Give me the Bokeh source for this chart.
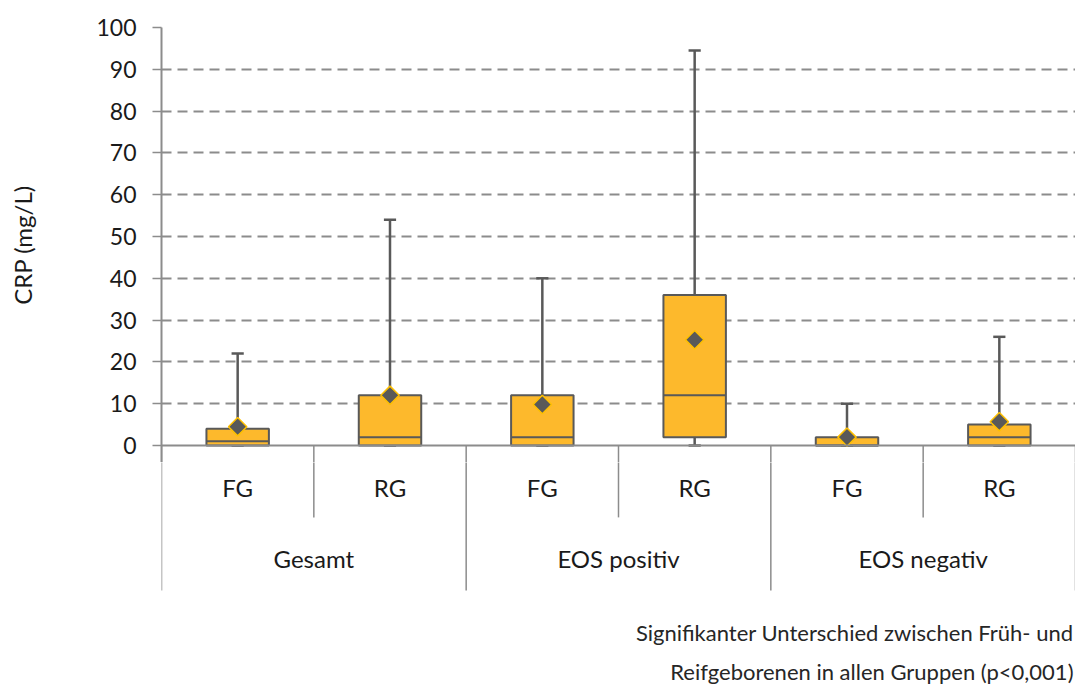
import numpy as np
from bokeh.plotting import figure
from bokeh.layouts import column
from bokeh.models import ColumnDataSource, FixedTicker, Span, Range1d
from bokeh.core.properties import value
from bokeh.embed import file_html
from bokeh.resources import INLINE

# CRP (mg/L) box plot statistics per group and subgroup
groups = ["Gesamt", "EOS positiv", "EOS negativ"]
subgroups = ["FG", "RG"]
whisker_low = [0, 0, 0, 0, 0, 0]
quartile1 = [0, 0, 0, 2, 0, 0]
medians = [1, 2, 2, 12, 0, 2]
quartile3 = [4, 12, 12, 36, 2, 5]
whisker_high = [22, 54, 40, 94.5, 10, 26]
means = [4.5, 12, 9.8, 25.3, 2, 5.7]
y_ticks = list(range(0, 101, 10))
footnote = ["Signifikanter Unterschied zwischen Früh- und",
            "Reifgeborenen in allen Gruppen (p<0,001)"]

FONT = "Lato"
BOX_FILL = "#FDB92C"
DARK = "#595959"
AXIS_GRAY = "#8C8C8C"
TEXT = "#1a1a1a"

W, H = 1075, 686
TOP_PAD, LEFT_PAD = 27, 161
PX = 4.18                 # pixels per mg/L
TOP_H = 462               # height of the chart panel
split = -(TOP_H - TOP_PAD - 100 * PX) / PX
y_floor = split - (H - TOP_H) / PX
sub_sep = -17.2           # depth of subgroup separators
grp_sep = -34.7           # depth of group separators

n = len(groups) * len(subgroups)
xc = np.arange(n) + 0.5
box_w = 0.41
cap_w = 0.08
x_range = Range1d(0, n)

src = ColumnDataSource(dict(
    x=xc,
    lo=whisker_low, q1=quartile1, med=medians, q3=quartile3,
    hi=whisker_high, mean=means,
    bl=xc - box_w / 2, br=xc + box_w / 2,
    cl=xc - cap_w / 2, cr=xc + cap_w / 2,
))

bounds = np.arange(n + 1)
sep_src = ColumnDataSource(dict(
    x=bounds, y0=np.zeros(n + 1),
    y1=[grp_sep if b % len(subgroups) == 0 else sub_sep for b in bounds],
))


def separators(fig):
    fig.segment(x0="x", y0="y0", x1="x", y1="y1", source=sep_src,
                line_color=AXIS_GRAY, line_width=1.5)


# ---- chart panel -------------------------------------------------------
p = figure(width=W, height=TOP_H, x_range=x_range, y_range=Range1d(split, 100),
           x_axis_location=None, output_backend="svg", toolbar_location=None,
           min_border_left=LEFT_PAD, min_border_right=0, min_border_top=TOP_PAD,
           min_border_bottom=0)
p.outline_line_color = None
p.xgrid.grid_line_color = None

yax = p.yaxis[0]
yax.ticker = FixedTicker(ticks=y_ticks)
yax.axis_line_color = AXIS_GRAY
yax.axis_line_width = 2
yax.major_tick_line_color = AXIS_GRAY
yax.major_tick_line_width = 1.5
yax.major_tick_in = 0
yax.major_tick_out = 9
yax.minor_tick_line_color = None
yax.major_label_text_font = FONT
yax.major_label_text_font_size = "23px"
yax.major_label_text_color = TEXT
yax.major_label_standoff = 16
yax.axis_label = "CRP (mg/L)"
yax.axis_label_text_font = FONT
yax.axis_label_text_font_size = "24px"
yax.axis_label_text_font_style = "normal"
yax.axis_label_text_color = TEXT
yax.axis_label_standoff = 56

p.ygrid.ticker = FixedTicker(ticks=y_ticks[1:])
p.ygrid.grid_line_color = AXIS_GRAY
p.ygrid.grid_line_width = 2
p.ygrid.grid_line_dash = "10 6"

separators(p)

# whiskers and caps
p.segment(x0="x", y0="q3", x1="x", y1="hi", source=src, line_color=DARK, line_width=2.5)
p.segment(x0="x", y0="q1", x1="x", y1="lo", source=src, line_color=DARK, line_width=2.5)
p.segment(x0="cl", y0="hi", x1="cr", y1="hi", source=src, line_color=DARK, line_width=2.5)
p.segment(x0="cl", y0="lo", x1="cr", y1="lo", source=src, line_color=DARK, line_width=2.5)

# boxes and medians
p.vbar(x="x", width=box_w, bottom="q1", top="q3", source=src,
       fill_color=BOX_FILL, line_color=DARK, line_width=2)
p.segment(x0="bl", y0="med", x1="br", y1="med", source=src, line_color=DARK, line_width=2)

# means
p.scatter(x="x", y="mean", source=src, marker="square", size=13, angle=np.pi / 4,
          fill_color=DARK, line_color="#FFC000", line_width=1.5)

p.add_layout(Span(location=0, dimension="width", line_color=AXIS_GRAY, line_width=2))

# ---- category and footnote panel ----------------------------------------
q = figure(width=W, height=H - TOP_H, x_range=x_range, y_range=Range1d(y_floor, split),
           x_axis_location=None, y_axis_location=None,
           output_backend="svg", toolbar_location=None,
           min_border_left=LEFT_PAD, min_border_right=0, min_border_top=0,
           min_border_bottom=0)
q.outline_line_color = None
q.grid.grid_line_color = None

separators(q)

q.text(x=xc, y=np.full(n, -10.0), text=subgroups * len(groups),
       text_align="center", text_baseline="middle",
       text_font=value(FONT), text_font_size="24px", text_color=TEXT)
gx = np.arange(len(groups)) * len(subgroups) + len(subgroups) / 2
q.text(x=gx, y=np.full(len(groups), -27.0), text=groups,
       text_align="center", text_baseline="middle",
       text_font=value(FONT), text_font_size="24px", text_color=TEXT)

q.text(x=[n, n], y=[-44.7, -54.1], text=footnote, x_offset=-2,
       text_align="right", text_baseline="middle",
       text_font=value(FONT), text_font_size="22px", text_color="#262626")

layout = column(p, q, spacing=0)
open("out.html", "w").write(file_html(layout, INLINE))
